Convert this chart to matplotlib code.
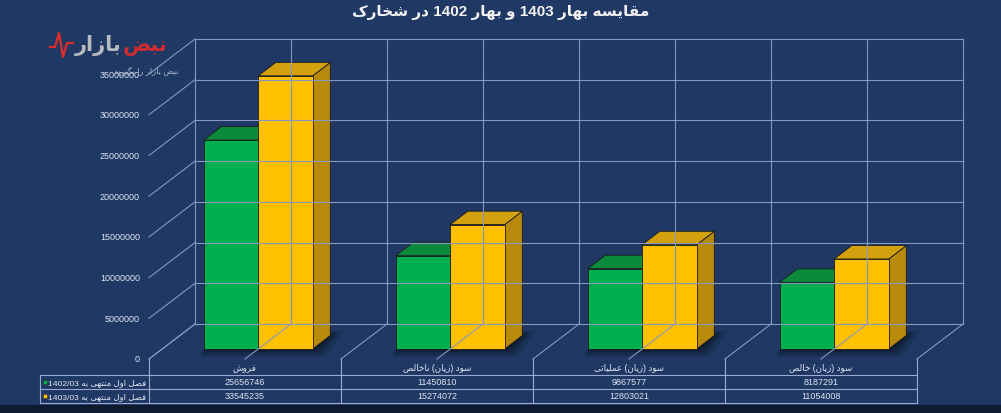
import matplotlib
matplotlib.use("Agg")
import matplotlib.pyplot as plt
from matplotlib.patches import Polygon, Rectangle

# chart data
title = "مقایسه بهار 1403 و بهار 1402 در شخارک"
categories = ["فروش", "سود (زیان) ناخالص", "سود (زیان) عملیاتی", "سود (زیان) خالص"]
series_names = ["فصل اول منتهی به 1402/03", "فصل اول منتهی به 1403/03"]
q1402 = [25656746, 11450810, 9867577, 8187291]
q1403 = [33545235, 15274072, 12803021, 11054008]
yticks = [0, 5000000, 10000000, 15000000, 20000000, 25000000, 30000000, 35000000]

# persian letters -> (isolated, final, initial, medial) presentation forms
FORMS = {
    'ا': ('\uFE8D', '\uFE8E', None, None),
    'ب': ('\uFE8F', '\uFE90', '\uFE91', '\uFE92'),
    'ت': ('\uFE95', '\uFE96', '\uFE97', '\uFE98'),
    'خ': ('\uFEA5', '\uFEA6', '\uFEA7', '\uFEA8'),
    'د': ('\uFEA9', '\uFEAA', None, None),
    'ر': ('\uFEAD', '\uFEAE', None, None),
    'ز': ('\uFEAF', '\uFEB0', None, None),
    'س': ('\uFEB1', '\uFEB2', '\uFEB3', '\uFEB4'),
    'ش': ('\uFEB5', '\uFEB6', '\uFEB7', '\uFEB8'),
    'ص': ('\uFEB9', '\uFEBA', '\uFEBB', '\uFEBC'),
    'ض': ('\uFEBD', '\uFEBE', '\uFEBF', '\uFEC0'),
    'ع': ('\uFEC9', '\uFECA', '\uFECB', '\uFECC'),
    'ف': ('\uFED1', '\uFED2', '\uFED3', '\uFED4'),
    'ق': ('\uFED5', '\uFED6', '\uFED7', '\uFED8'),
    'ل': ('\uFEDD', '\uFEDE', '\uFEDF', '\uFEE0'),
    'م': ('\uFEE1', '\uFEE2', '\uFEE3', '\uFEE4'),
    'ن': ('\uFEE5', '\uFEE6', '\uFEE7', '\uFEE8'),
    'ه': ('\uFEE9', '\uFEEA', '\uFEEB', '\uFEEC'),
    'و': ('\uFEED', '\uFEEE', None, None),
    'ک': ('\uFB8E', '\uFB8F', '\uFB90', '\uFB91'),
    'گ': ('\uFB92', '\uFB93', '\uFB94', '\uFB95'),
    'ی': ('\uFBFC', '\uFBFD', '\uFBFE', '\uFBFF'),
}


def shape_word(w):
    out = []
    for i, c in enumerate(w):
        prev = w[i - 1] if i > 0 else None
        nxt = w[i + 1] if i + 1 < len(w) else None
        iso, fin, ini, med = FORMS[c]
        jp = prev in FORMS and FORMS[prev][2] is not None
        jn = nxt in FORMS and ini is not None
        if jp and jn:
            out.append(med)
        elif jp:
            out.append(fin)
        elif jn:
            out.append(ini)
        else:
            out.append(iso)
    return ''.join(reversed(out))


def fa(text):
    # visual order for a right-to-left line (matplotlib draws left to right)
    toks = []
    for tok in text.split(' '):
        idx = [i for i, c in enumerate(tok) if c in FORMS]
        if idx:
            a, b = idx[0], idx[-1] + 1
            tok = tok[:a] + shape_word(tok[a:b]) + tok[b:]
        toks.append(tok)
    return ' '.join(reversed(toks))


BG = '#1f3864'
GRID = '#8598c0'
FONT = ['Liberation Sans', 'DejaVu Sans']
TXT = '#dfe5f0'

fig = plt.figure(figsize=(10.01, 4.14), dpi=100, facecolor=BG)
ax = fig.add_axes([0, 0, 1, 1])
ax.set_facecolor(BG)
ax.axis('off')

# x in category units, y in values; oblique depth offset
PX_X = 192.0
PX_Y = 285.0 / 35e6
ax.set_xlim(-149 / PX_X, (1001 - 149) / PX_X)
ax.set_ylim(-54 / PX_Y, 360 / PX_Y)
DX = 46 / PX_X
DY = 35 / PX_Y


def P(x, v, d):
    return (x + d * DX, v + d * DY)


ncat = len(categories)
top = yticks[-1]
for v in yticks:
    a, b = P(0, v, 1), P(ncat, v, 1)
    ax.plot([a[0], b[0]], [a[1], b[1]], color=GRID, lw=0.8)
    a, b = P(0, v, 0), P(0, v, 1)
    ax.plot([a[0], b[0]], [a[1], b[1]], color=GRID, lw=0.8)
    ax.text(-9 / PX_X, v, str(v), ha='right', va='center', fontsize=6.5,
            color=TXT, family=FONT)
for k in range(2 * ncat + 1):
    x = k / 2
    a, b = P(x, 0, 1), P(x, top, 1)
    ax.plot([a[0], b[0]], [a[1], b[1]], color=GRID, lw=0.8)
    a, b = P(x, 0, 0), P(x, 0, 1)
    ax.plot([a[0], b[0]], [a[1], b[1]], color=GRID, lw=0.8)

# bars
d0, d1 = 0.286, 0.67
hw = 54.5 / PX_X


def bar3d(x0, x1, v, cf, ct, cs):
    side = [P(x1, 0, d0), P(x1, 0, d1), P(x1, v, d1), P(x1, v, d0)]
    tp = [P(x0, v, d0), P(x1, v, d0), P(x1, v, d1), P(x0, v, d1)]
    front = [P(x0, 0, d0), P(x1, 0, d0), P(x1, v, d0), P(x0, v, d0)]
    for pts, c in [(side, cs), (tp, ct), (front, cf)]:
        ax.add_patch(Polygon(pts, closed=True, facecolor=c, edgecolor='#1a1a1a',
                             lw=0.6, joinstyle='miter'))


for i in range(ncat):
    c = i + 0.5
    # soft shadow on the floor
    for m, al in [(14, 0.1), (10, 0.13), (6, 0.17), (3, 0.22)]:
        mx = m / PX_X
        my = m / PX_Y * 0.6
        sh = [P(c - hw - mx * 0.4, -my, d0), P(c + hw + mx, -my, d0),
              P(c + hw + mx, my * 0.6, d1), P(c - hw, my * 0.5, d1)]
        ax.add_patch(Polygon(sh, closed=True, facecolor='black', edgecolor='none',
                             alpha=al))
    bar3d(c - hw, c, q1402[i], '#00b050', '#0b8a3c', '#0a7a34')
    bar3d(c, c + hw, q1403[i], '#ffc000', '#d4a10e', '#b88a0a')

# data table, y in pixel rows
tab = fig.add_axes([0, 0, 1, 1])
tab.set_facecolor('none')
tab.axis('off')
tab.set_xlim(ax.get_xlim())
tab.set_ylim(414, 0)
xl = (40 - 149) / PX_X
TGRID = '#9aaad0'
for y in [376, 390, 404]:
    tab.plot([xl, ncat], [y, y], color=TGRID, lw=0.8)
tab.plot([xl, xl], [376, 404], color=TGRID, lw=0.8)
for k in range(ncat + 1):
    tab.plot([k, k], [360, 404], color=TGRID, lw=0.8)

for i, name in enumerate(categories):
    tab.text(i + 0.5, 369, fa(name), ha='center', va='center', fontsize=6.3,
             color=TXT, family=FONT)
    tab.text(i + 0.5, 383, str(q1402[i]), ha='center', va='center', fontsize=6.5,
             color=TXT, family=FONT)
    tab.text(i + 0.5, 397, str(q1403[i]), ha='center', va='center', fontsize=6.5,
             color=TXT, family=FONT)

for name, y, col in [(series_names[0], 383, '#00b050'), (series_names[1], 397, '#ffc000')]:
    tab.plot([-104 / PX_X], [y], marker='s', ms=3.2, color=col,
             markeredgecolor='#333333', markeredgewidth=0.4)
    tab.text(-101 / PX_X, y, fa(name), ha='left', va='center', fontsize=6.1,
             color=TXT, family=FONT)

tab.add_patch(Rectangle((tab.get_xlim()[0], 406), 10, 8, facecolor='#101a2e',
                        edgecolor='none'))

# watermark logo
tab.plot([-99 / PX_X, -94 / PX_X, -90 / PX_X, -86 / PX_X, -82 / PX_X, -76 / PX_X],
         [48, 48, 34, 58, 44, 44], color='#e02b2b', lw=1.6)
tab.text(-74 / PX_X, 46, fa('بازار'), ha='left', va='center', fontsize=15,
         fontweight='bold', color='#c9c9c9', family=FONT, alpha=0.9)
tab.text(-26 / PX_X, 46, fa('نبض'), ha='left', va='center', fontsize=15,
         fontweight='bold', color='#e02b2b', family=FONT, alpha=0.9)
tab.text(30 / PX_X, 72, fa('نبض بازار را بگیرید'), ha='right', va='center',
         fontsize=6, color='#aab4c8', family=FONT)

fig.text(0.5, 1 - 13 / 414, fa(title), ha='center', va='center', fontsize=11,
         fontweight='bold', color='#f2f2f2', family=FONT)

fig.savefig('out.png', dpi=100, facecolor=BG)
